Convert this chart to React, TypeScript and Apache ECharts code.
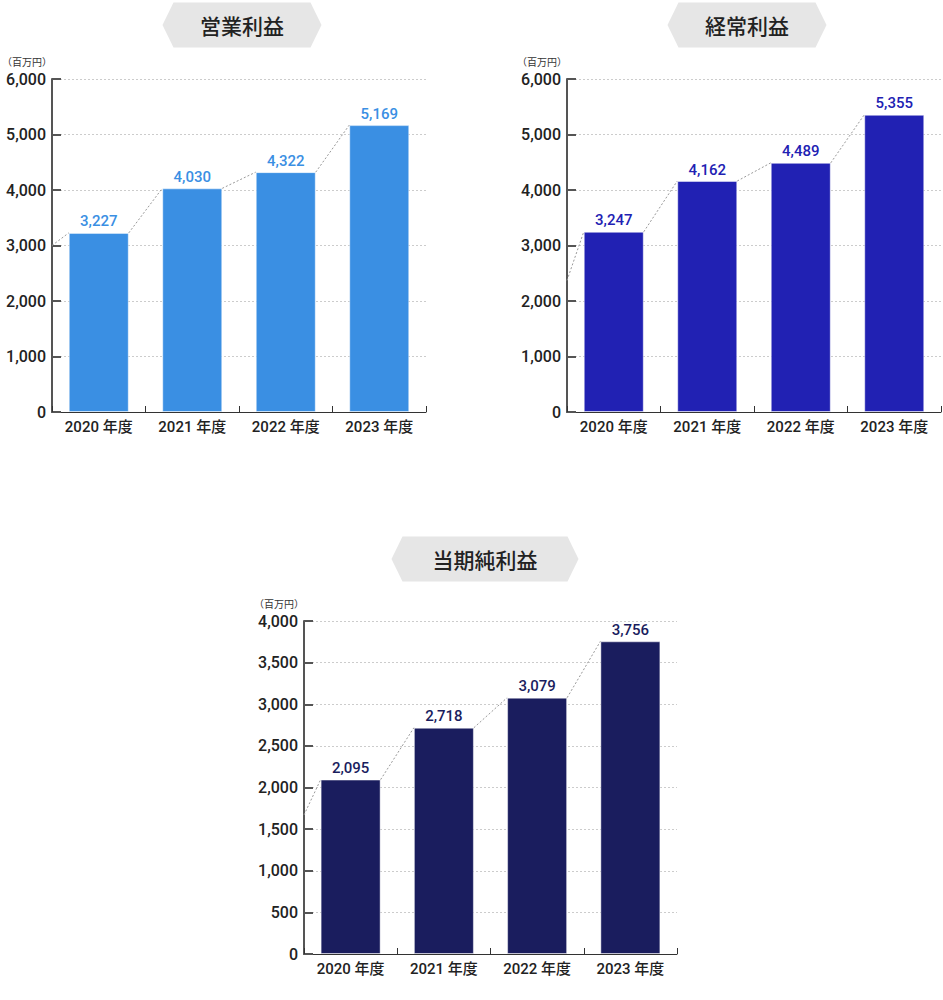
import { useEffect, useRef } from 'react';
import * as echarts from 'echarts';

// fiscal years on the x axis
const categories = ['2020 年度', '2021 年度', '2022 年度', '2023 年度'];

// 百万円
const operatingProfit = [3227, 4030, 4322, 5169];
const ordinaryProfit = [3247, 4162, 4489, 5355];
const netProfit = [2095, 2718, 3079, 3756];

// where the dotted connector enters from the y axis (previous year)
const leadIns = [3000, 2370, 1670];

const titles = ['営業利益', '経常利益', '当期純利益'];
const yMaxes = [6000, 6000, 4000];
const yIntervals = [1000, 1000, 500];
const barColors = ['#3a8fe3', '#2121b3', '#1a1d5e'];

const FONT = 'Roboto, "Noto Sans CJK JP", sans-serif';
const JP_FONT = '"Noto Sans CJK JP", sans-serif';
const BAR_WIDTH = 60;

// pixel layout of the three panels
const grids = [
    { left: 52, top: 79, width: 374, height: 333 },
    { left: 567, top: 79, width: 374, height: 333 },
    { left: 304, top: 621, width: 373, height: 333 },
];
const badges = [
    { cx: 242, cy: 25, w: 159, h: 45 },
    { cx: 747, cy: 25, w: 159, h: 45 },
    { cx: 485, cy: 559, w: 187, h: 45 },
];

const fmt = (v: number) => v.toLocaleString('en-US');

export default function App() {
    const chartRef = useRef<HTMLDivElement>(null);

    useEffect(() => {
        if (!chartRef.current) return;
        const chart = echarts.init(chartRef.current, null, { renderer: 'svg' });
        const seriesData = [operatingProfit, ordinaryProfit, netProfit];

        const xAxis: any[] = [];
        const yAxis: any[] = [];
        const series: any[] = [];

        seriesData.forEach((values, k) => {
            xAxis.push({
                type: 'category',
                gridIndex: k,
                data: categories,
                axisLine: { lineStyle: { color: '#333', width: 1 } },
                axisTick: { show: true, inside: true, length: 6, lineStyle: { color: '#333' } },
                axisLabel: { fontFamily: FONT, fontSize: 15, fontWeight: 500, color: '#222', margin: 7 },
            });
            yAxis.push({
                type: 'value',
                gridIndex: k,
                min: 0,
                max: yMaxes[k],
                interval: yIntervals[k],
                name: '（百万円）',
                nameLocation: 'end',
                nameGap: 18,
                nameTextStyle: { fontFamily: JP_FONT, fontSize: 10, color: '#333', align: 'right', verticalAlign: 'middle' },
                axisLine: { show: true, lineStyle: { color: '#555', width: 2 } },
                axisTick: { show: true, inside: true, length: 9, lineStyle: { color: '#555', width: 2 } },
                axisLabel: {
                    fontFamily: FONT, fontSize: 16, fontWeight: 500, color: '#222', margin: 6,
                    formatter: (v: number) => fmt(v),
                },
                splitLine: { show: true, lineStyle: { color: '#ccc', type: [2, 2], width: 1 } },
            });
            series.push({
                type: 'bar',
                xAxisIndex: k,
                yAxisIndex: k,
                data: values,
                barWidth: BAR_WIDTH,
                itemStyle: { color: barColors[k], borderColor: 'rgba(255,255,255,0.45)', borderWidth: 1 },
                label: {
                    show: true,
                    position: 'top',
                    distance: 4,
                    fontFamily: FONT,
                    fontSize: 15,
                    fontWeight: 500,
                    color: barColors[k],
                    formatter: (p: any) => fmt(p.value),
                },
            });
            // dotted connectors: right top corner of previous bar to left top corner of this one
            series.push({
                type: 'custom',
                xAxisIndex: k,
                yAxisIndex: k,
                z: 3,
                silent: true,
                data: values.map((v, i) => [i, v, i === 0 ? leadIns[k] : values[i - 1]]),
                renderItem: (params: any, api: any) => {
                    const i = api.value(0);
                    const cur = api.coord([i, api.value(1)]);
                    const band = api.size([1, 0])[0];
                    let start;
                    if (i === 0) {
                        const p = api.coord([0, api.value(2)]);
                        start = [p[0] - band / 2, p[1]];
                    } else {
                        const p = api.coord([i - 1, api.value(2)]);
                        start = [p[0] + BAR_WIDTH / 2, p[1]];
                    }
                    return {
                        type: 'line',
                        shape: { x1: start[0], y1: start[1], x2: cur[0] - BAR_WIDTH / 2, y2: cur[1] },
                        style: { stroke: '#999', lineWidth: 1, lineDash: [2, 2] },
                    };
                },
            });
        });

        const graphic: any[] = [];
        badges.forEach((b, k) => {
            const hw = b.w / 2;
            const hh = b.h / 2;
            const tip = 11;
            graphic.push({
                type: 'polygon',
                shape: {
                    points: [
                        [b.cx - hw, b.cy],
                        [b.cx - hw + tip, b.cy - hh],
                        [b.cx + hw - tip, b.cy - hh],
                        [b.cx + hw, b.cy],
                        [b.cx + hw - tip, b.cy + hh],
                        [b.cx - hw + tip, b.cy + hh],
                    ],
                },
                style: { fill: '#e6e6e6' },
            });
            graphic.push({
                type: 'text',
                x: b.cx,
                y: b.cy,
                style: {
                    text: titles[k],
                    fontFamily: JP_FONT,
                    fontSize: 21,
                    fontWeight: 500,
                    fill: '#222',
                    align: 'center',
                    verticalAlign: 'middle',
                },
            });
        });

        chart.setOption({
            animation: false,
            grid: grids.map(g => ({ ...g, containLabel: false, outerBoundsMode: 'none' })),
            xAxis,
            yAxis,
            series,
            graphic,
        });

        return () => chart.dispose();
    }, []);

    return (
        <div
            ref={chartRef}
            style={{ position: 'absolute', left: 0, top: 0, width: '943px', height: '1000px', background: '#fff' }}
        ></div>
    );
}
